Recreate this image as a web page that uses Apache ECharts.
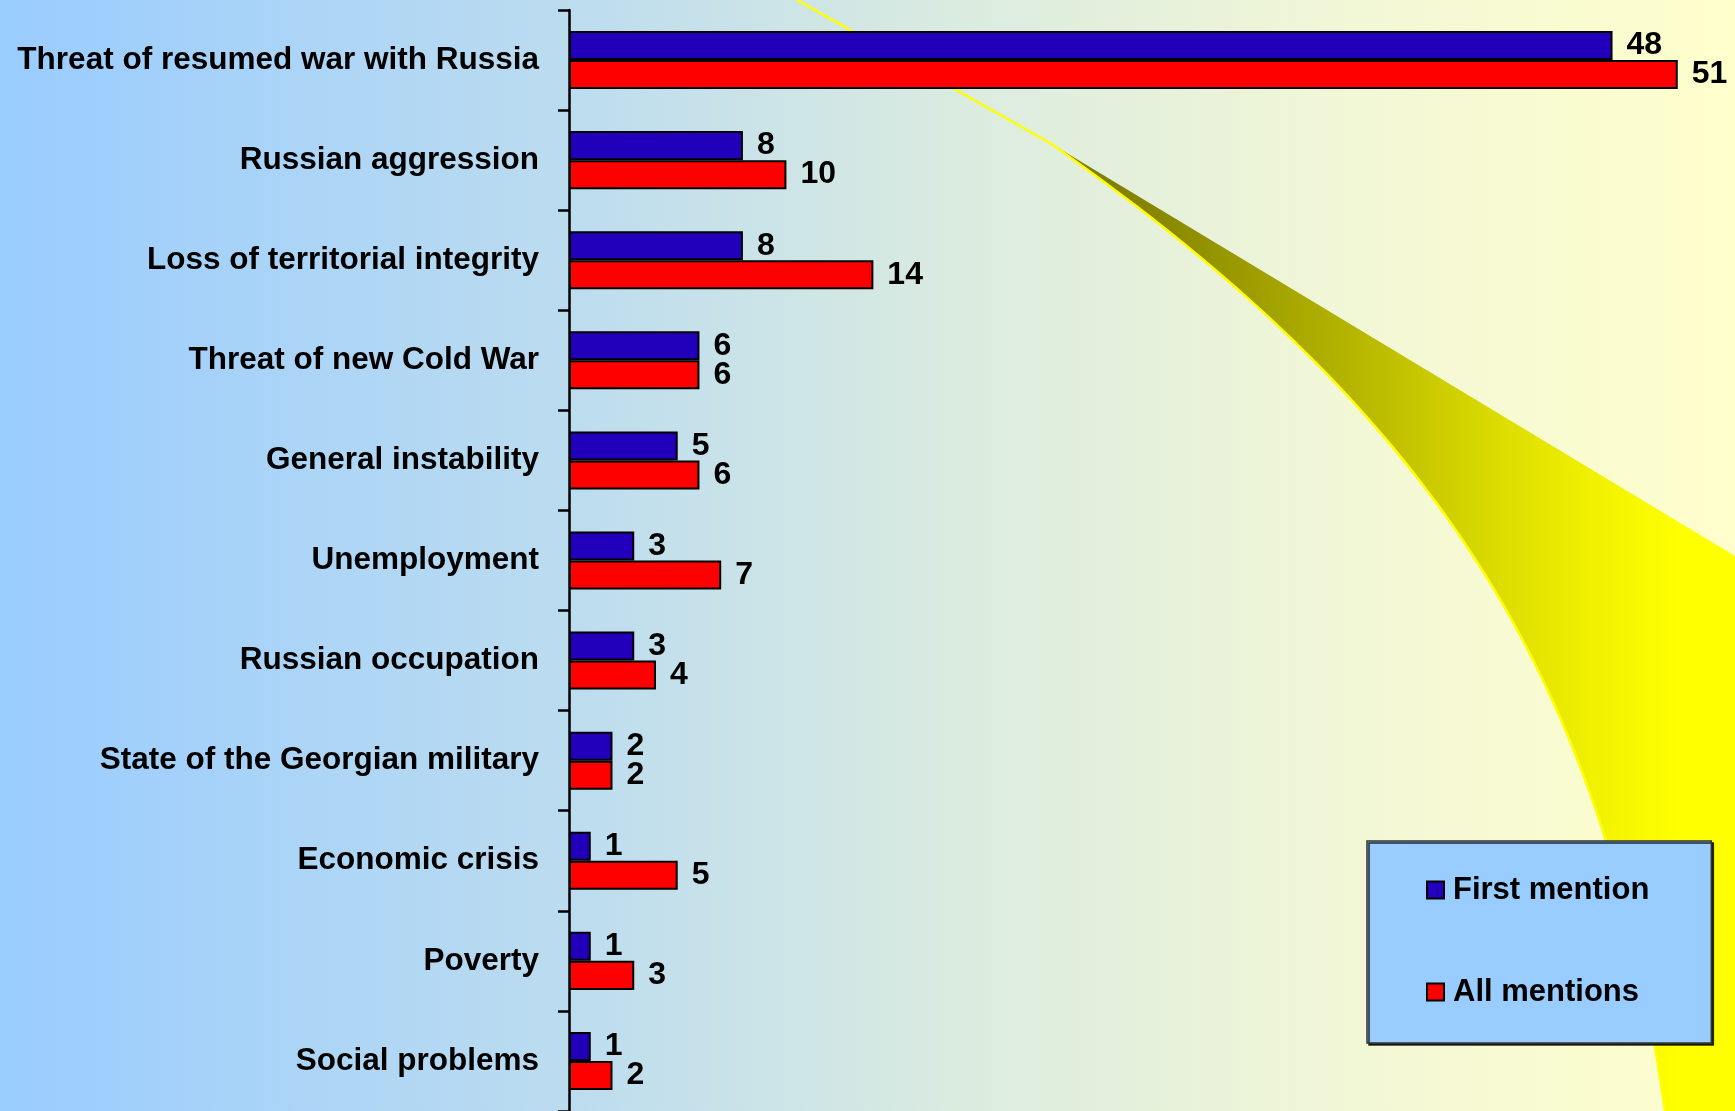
<!DOCTYPE html>
<html>
<head>
<meta charset="utf-8">
<script src="https://cdn.jsdelivr.net/npm/echarts@6/dist/echarts.min.js"></script>
<style>
  html, body { margin: 0; padding: 0; background: #fff; }
  #chart { width: 1735px; height: 1111px; }
</style>
</head>
<body>
<div id="chart"></div>
<script>
const categories = [
  'Threat of resumed war with Russia',
  'Russian aggression',
  'Loss of territorial integrity',
  'Threat of new Cold War',
  'General instability',
  'Unemployment',
  'Russian occupation',
  'State of the Georgian military',
  'Economic crisis',
  'Poverty',
  'Social problems'
];
const firstMention = [48, 8, 8, 6, 5, 3, 3, 2, 1, 1, 1];
const allMentions = [51, 10, 14, 6, 6, 7, 4, 2, 5, 3, 2];
const seriesNames = ['First mention', 'All mentions'];

// decorative swoosh (background ornament, not data): one cubic Bezier edge
const bz = [[1050,143],[1450,423],[1605,691],[1665,1111]];
function bezierPoints(p, n) {
  const out = [];
  for (let i = 0; i <= n; i++) {
    const t = i / n, u = 1 - t;
    const a = u * u * u, b = 3 * u * u * t, c = 3 * u * t * t, d = t * t * t;
    out.push([a * p[0][0] + b * p[1][0] + c * p[2][0] + d * p[3][0],
              a * p[0][1] + b * p[1][1] + c * p[2][1] + d * p[3][1]]);
  }
  return out;
}
const edgePts = bezierPoints(bz, 80);
const swooshFill = edgePts.concat([[1735,1111],[1735,556]]);
const swooshEdge = [[797,0]].concat(edgePts);

const FONT = '"Liberation Sans", Arial, sans-serif';
const chart = echarts.init(document.getElementById('chart'), null, { renderer: 'canvas' });

const labelStyle = {
  show: true,
  position: 'right',
  distance: 14,
  color: '#000',
  fontFamily: FONT,
  fontWeight: 'bold',
  fontSize: 32
};

chart.setOption({
  animation: false,
  backgroundColor: 'transparent',
  graphic: [
    {
      type: 'rect', z: -30, silent: true,
      shape: { x: 0, y: 0, width: 1735, height: 1111 },
      style: {
        fill: {
          type: 'linear', x: 0, y: 0, x2: 1735, y2: 0, global: true,
          colorStops: [
            { offset: 0, color: '#99CCFF' },
            { offset: 0.33, color: '#BCDCEF' },
            { offset: 0.55, color: '#DAEBE0' },
            { offset: 0.78, color: '#F2F7D6' },
            { offset: 1, color: '#FFFFCC' }
          ]
        }
      }
    },
    {
      type: 'polygon', z: -20, silent: true,
      shape: { points: swooshFill },
      style: {
        fill: {
          type: 'linear', x: 1050, y: 0, x2: 1735, y2: 0, global: true,
          colorStops: [
            { offset: 0, color: '#787800' },
            { offset: 0.15, color: '#868600' },
            { offset: 0.44, color: '#B5B500' },
            { offset: 0.66, color: '#DDDD00' },
            { offset: 0.8, color: '#F2F200' },
            { offset: 0.92, color: '#FFFF00' },
            { offset: 1, color: '#FFFF00' }
          ]
        }
      }
    },
    {
      type: 'polyline', z: -19, silent: true,
      shape: { points: swooshEdge },
      style: { stroke: '#FFFF00', lineWidth: 2.5, fill: null }
    }
  ],
  legend: {
    orient: 'vertical',
    left: 1367,
    top: 841,
    data: seriesNames,
    icon: 'rect',
    itemWidth: 17,
    itemHeight: 17,
    itemGap: 70,
    padding: [33, 62, 35, 59],
    backgroundColor: '#99CCFF',
    borderColor: '#333333',
    borderWidth: 1.5,
    shadowColor: 'rgba(0,0,0,0.8)',
    shadowOffsetX: 2,
    shadowOffsetY: 2,
    shadowBlur: 0,
    itemStyle: { borderColor: '#000', borderWidth: 2 },
    textStyle: {
      color: '#000',
      fontFamily: FONT,
      fontWeight: 'bold',
      fontSize: 31,
      lineHeight: 32,
      padding: [0, 0, 0, 4]
    }
  },
  grid: {
    left: 569,
    top: 10,
    width: 1130.5,
    height: 1108,
    containLabel: false
  },
  xAxis: {
    type: 'value',
    min: 0,
    max: 52,
    show: false,
    splitLine: { show: false }
  },
  yAxis: {
    type: 'category',
    data: categories,
    inverse: true,
    boundaryGap: true,
    axisLine: { show: true, lineStyle: { color: '#000', width: 2.5 } },
    axisTick: { show: true, inside: false, length: 11, lineStyle: { color: '#000', width: 2.5 } },
    axisLabel: {
      margin: 30,
      color: '#000',
      fontFamily: FONT,
      fontWeight: 'bold',
      fontSize: 31.5
    },
    splitLine: { show: false }
  },
  series: [
    {
      name: seriesNames[0],
      type: 'bar',
      data: firstMention,
      barGap: '0%',
      barCategoryGap: '42%',
      itemStyle: { color: '#2200BB', borderColor: '#000', borderWidth: 2 },
      label: labelStyle
    },
    {
      name: seriesNames[1],
      type: 'bar',
      data: allMentions,
      barGap: '0%',
      barCategoryGap: '42%',
      itemStyle: { color: '#FF0000', borderColor: '#000', borderWidth: 2 },
      label: labelStyle
    }
  ]
});
</script>
</body>
</html>
